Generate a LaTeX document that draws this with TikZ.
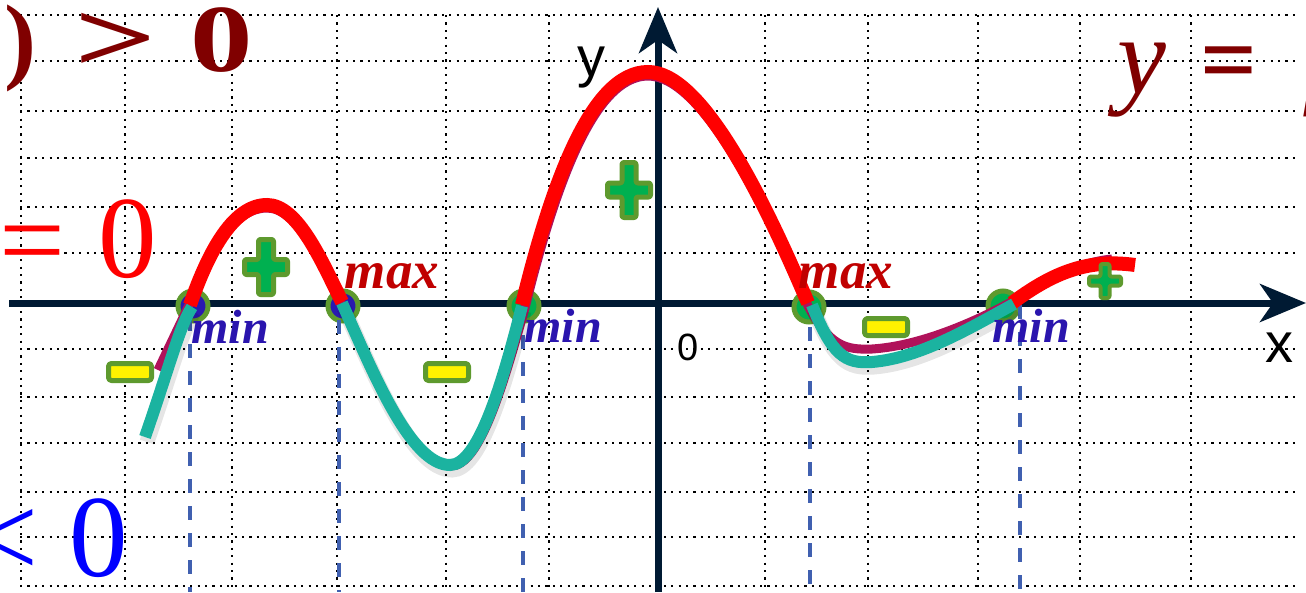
\documentclass[tikz,border=0pt]{standalone}
\usepackage{fontspec}
\usepackage{graphicx}
\setmainfont{Liberation Serif}
\newfontfamily\axfont{Liberation Sans}
\usetikzlibrary{arrows.meta}
\definecolor{maroonc}{HTML}{800000}
\definecolor{maxc}{HTML}{C00000}
\definecolor{minc}{HTML}{2A15AE}
\definecolor{axisc}{HTML}{001A33}
\definecolor{tealc}{HTML}{1BB3A0}
\definecolor{purpc}{HTML}{B0125A}
\definecolor{olivec}{HTML}{5E9A2E}
\definecolor{greenc}{HTML}{00B050}
\definecolor{dashc}{HTML}{4060B0}
\definecolor{dotblue}{HTML}{2A1AB0}
\begin{document}
\begin{tikzpicture}[x=1pt,y=-1pt,
  gridline/.style={line width=2.2pt, dash pattern=on 2.2pt off 5.2pt, black},
  axisline/.style={line width=7pt, axisc, -{Stealth[length=46pt,width=38pt,inset=13pt]}},
  dropline/.style={line width=4pt, dashc, dash pattern=on 14pt off 13pt},
  zerodot/.style={line width=5pt, draw=olivec},
  poscurve/.style={line width=14pt, red},
  negcurve/.style={line width=12pt, tealc},
  basecurve/.style={line width=9pt, purpc},
  shadowcurve/.style={line width=15pt, black, opacity=0.1},
  signmark/.style={draw=olivec, line join=round, rounded corners=2pt},
  maxlabel/.style={font=\fontsize{53}{53}\selectfont\bfseries\itshape, text=maxc, inner sep=0pt, anchor=base},
  minlabel/.style={font=\fontsize{48}{48}\selectfont\bfseries\itshape, text=minc, inner sep=0pt, anchor=base},
  bigtext/.style={inner sep=0pt, anchor=base, text height=0.66em, text depth=0.15em},
  axlabel/.style={inner sep=0pt, anchor=base, text=black}
]
\useasboundingbox (0,0) rectangle (1306,592);
\clip (0,0) rectangle (1306,592);
\fill[white] (0,0) rectangle (1306,592);

% grid
\foreach \gx in {21,125,232,337,446,549,657,765,868,978,1080,1191}
  \draw[gridline] (\gx,15) -- (\gx,592);
\foreach \gy in {15,61,111,158,207,253,303,349,397,443,492,537,586}
  \draw[gridline] (20,\gy) -- (1295,\gy);

% axes
\coordinate (xstart) at (9,303);
\coordinate (xend) at (1306,303);
\coordinate (ystart) at (658,592);
\coordinate (yend) at (658,7);
\draw[axisline] (xstart) -- (xend);
\draw[axisline] (ystart) -- (yend);

% zero points
\draw[zerodot, fill=dotblue] (193,306) circle[radius=15];
\draw[zerodot, fill=dotblue] (343,306) circle[radius=15];
\draw[zerodot, fill=greenc] (524,306) circle[radius=15];
\draw[zerodot, fill=greenc] (809,307) circle[radius=15];
\draw[zerodot, fill=greenc] (1003,306) circle[radius=15];

% dashed drop lines
\draw[dropline] (190,290) -- (190,592);
\draw[dropline] (339,293) -- (339,592);
\draw[dropline] (523,308) -- (523,592);
\draw[dropline] (810,327) -- (810,592);
\draw[dropline] (1020,305) -- (1020,592);

% base curve (purple)
\draw[basecurve] (158,370) -- (190,303)
  .. controls (212,248) and (235,208) .. (267,208)
  .. controls (298,208) and (322,265) .. (342,306)
  .. controls (374,373) and (412,466) .. (451,466)
  .. controls (480,466) and (503,386) .. (525,308)
  .. controls (553,195) and (592,76) .. (648,76)
  .. controls (700,76) and (760,195) .. (808,306)
  .. controls (830,346) and (845,350) .. (872,349)
  .. controls (920,346) and (975,322) .. (1015,300)
  .. controls (1050,278) and (1080,262) .. (1112,259);

% shadows of negative parts
\begin{scope}[shift={(2,5)}]
\draw[shadowcurve] (145,437) .. controls (170,365) and (180,325) .. (192,307);
\draw[shadowcurve] (342,303) .. controls (372,370) and (410,465) .. (450,465)
  .. controls (478,465) and (502,385) .. (522,306);
\draw[shadowcurve] (812,305) .. controls (832,355) and (845,364) .. (872,362)
  .. controls (920,358) and (970,328) .. (1014,304);
\end{scope}

% positive parts (red)
\draw[poscurve] (190,305) .. controls (210,247) and (235,205) .. (267,205)
  .. controls (298,205) and (322,262) .. (342,302);
\draw[poscurve] (522,305) .. controls (550,190) and (590,72) .. (648,72)
  .. controls (700,72) and (760,190) .. (808,303);
\draw[poscurve] (1012,303) .. controls (1050,275) and (1085,258) .. (1135,265);

% negative parts (teal)
\draw[negcurve] (145,437) .. controls (170,365) and (180,325) .. (192,307);
\draw[negcurve] (342,303) .. controls (372,370) and (410,465) .. (450,465)
  .. controls (478,465) and (502,385) .. (522,306);
\draw[negcurve] (812,305) .. controls (832,355) and (845,364) .. (872,362)
  .. controls (920,358) and (970,328) .. (1014,304);

% plus signs
\draw[signmark, line width=5pt, fill=greenc] (266,267)
  ++(-7.5,-27.5) -- ++(15,0) -- ++(0,20) -- ++(14,0) -- ++(0,15) -- ++(-14,0)
  -- ++(0,20) -- ++(-15,0) -- ++(0,-20) -- ++(-14,0) -- ++(0,-15) -- ++(14,0) -- cycle;
\draw[signmark, line width=5pt, fill=greenc] (629,190)
  ++(-7,-27.5) -- ++(14,0) -- ++(0,20.5) -- ++(14.5,0) -- ++(0,14) -- ++(-14.5,0)
  -- ++(0,20.5) -- ++(-14,0) -- ++(0,-20.5) -- ++(-14.5,0) -- ++(0,-14) -- ++(14.5,0) -- cycle;
\draw[signmark, line width=4pt, fill=greenc] (1105,281)
  ++(-4.5,-17) -- ++(9,0) -- ++(0,12.5) -- ++(11.5,0) -- ++(0,9) -- ++(-11.5,0)
  -- ++(0,12.5) -- ++(-9,0) -- ++(0,-12.5) -- ++(-11.5,0) -- ++(0,-9) -- ++(11.5,0) -- cycle;

% minus signs
\draw[signmark, line width=5pt, rounded corners=3pt, fill=yellow] (108.5,363.5) rectangle (151.5,380.5);
\draw[signmark, line width=5pt, rounded corners=3pt, fill=yellow] (425.5,363.5) rectangle (468.5,380.5);
\draw[signmark, line width=5pt, rounded corners=3pt, fill=yellow] (864.5,318.5) rectangle (907.5,335.5);

% labels max / min
\node[maxlabel] (max1) at (392,288) {max};
\node[maxlabel] (max2) at (846,288) {max};
\node[minlabel] (min1) at (230,343) {min};
\node[minlabel] (min2) at (563,342) {min};
\node[minlabel] (min3) at (1031,342) {min};

% axis labels
\node[axlabel, font=\axfont\fontsize{56}{56}\selectfont] (ylab) at (591,76) {y};
\node[axlabel, font=\axfont\fontsize{56}{56}\selectfont] (xlab) at (1279,362) {x};
\node[axlabel, font=\axfont\fontsize{38}{38}\selectfont] (olab) at (688,360) {0};

% big formulas
\node[bigtext, text=maroonc, font=\fontsize{96}{96}\selectfont\bfseries] (gpar) at (20,71) {)};
\node[bigtext, text=maroonc, font=\fontsize{100}{100}\selectfont\bfseries] (ggt) at (116,71) {\scalebox{1.45}[1]{>}};
\node[bigtext, text=maroonc, font=\fontsize{96}{96}\selectfont\bfseries] (gzero) at (222,71) {\scalebox{1.3}[1]{0}};

\node[bigtext, text=red, font=\fontsize{117}{117}\selectfont] (req) at (32,279) {=};
\node[bigtext, text=red, font=\fontsize{117}{117}\selectfont] (rzero) at (128,277) {0};

\node[bigtext, text=blue, font=\fontsize{117}{117}\selectfont] (blt) at (5,576) {<};
\node[bigtext, text=blue, font=\fontsize{117}{117}\selectfont] (bzero) at (99,576) {0};

\node[bigtext, text=maroonc, font=\fontsize{110}{110}\selectfont\itshape] (ty) at (1142,93) {y};
\node[bigtext, text=maroonc, font=\fontsize{100}{100}\selectfont\bfseries] (teq) at (1229,93) {=};
\node[bigtext, anchor=base west, text=maroonc, font=\fontsize{110}{110}\selectfont\itshape] (tf) at (1302,93) {f};
\end{tikzpicture}
\end{document}
